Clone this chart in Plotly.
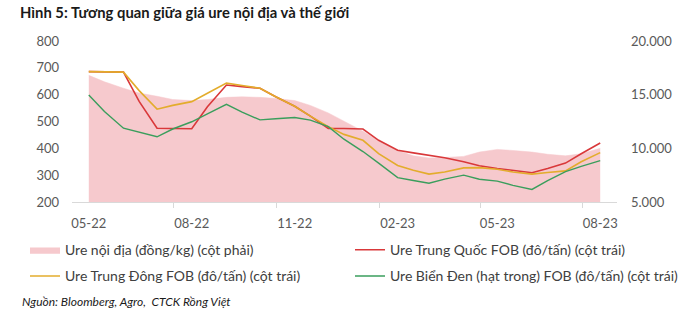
import plotly.graph_objects as go

# semi-monthly observation dates (1st and 15th), May 2022 -> Aug 2023
dates = []
for y, m in [(2022, mm) for mm in range(5, 13)] + [(2023, mm) for mm in range(1, 9)]:
    dates.append(f"{y}-{m:02d}-01")
    if not (y == 2023 and m == 8):
        dates.append(f"{y}-{m:02d}-15")

# Ure nội địa (đồng/kg) - right axis
ure_noi_dia = [16800, 16200, 15600, 15150, 14850, 14550, 14450, 14550, 14750, 14800,
               14750, 14650, 14450, 14000, 13300, 12550, 11600, 10700, 9800, 9300,
               9100, 9150, 9250, 9650, 9900, 9800, 9650, 9450, 9300, 9500, 10000]
# Ure Trung Quốc FOB (đô/tấn) - left axis
ure_trung_quoc = [686, 685, 684, 575, 475, 474, 473, 555, 636, 630,
                  624, 592, 557, 520, 474, 474, 472, 430, 393, 383,
                  375, 365, 350, 335, 325, 317, 309, 325, 345, 380, 420]
# Ure Trung Đông FOB (đô/tấn) - left axis
ure_trung_dong = [686, 685, 684, 615, 546, 560, 574, 605, 643, 634,
                  624, 592, 557, 520, 481, 452, 430, 380, 336, 318,
                  304, 312, 327, 328, 322, 312, 304, 310, 316, 350, 384]
# Ure Biển Đen (hạt trong) FOB (đô/tấn) - left axis
ure_bien_den = [599, 537, 475, 459, 443, 472, 499, 528, 564, 535,
                506, 510, 515, 505, 481, 434, 388, 345, 291, 280,
                270, 285, 300, 285, 278, 262, 247, 280, 313, 333, 354]

tick_dates = ["2022-05-01", "2022-08-01", "2022-11-01", "2023-02-01", "2023-05-01", "2023-08-01"]
tick_labels = ["05-22", "08-22", "11-22", "02-23", "05-23", "08-23"]
minor_ticks = ["2022-07-16", "2022-10-16", "2023-01-16", "2023-04-16", "2023-07-16"]

left_ticks = [200, 300, 400, 500, 600, 700, 800]
right_ticks = [5000, 10000, 15000, 20000]
right_labels = ["5.000", "10.000", "15.000", "20.000"]

FONT = "Lato"
fig = go.Figure()

fig.add_trace(go.Scatter(
    x=dates, y=ure_noi_dia, name="Ure nội địa (đồng/kg) (cột phải)",
    mode="lines", fill="tozeroy", fillcolor="#F6C9CD",
    line=dict(color="#F6C9CD", width=0.5), yaxis="y",
    legend="legend", legendgroup="a"))
fig.add_trace(go.Scatter(
    x=dates, y=ure_trung_quoc, name="Ure Trung Quốc FOB (đô/tấn) (cột trái)",
    mode="lines", line=dict(color="#D9383A", width=1.6), yaxis="y2",
    legend="legend2", legendgroup="b"))
fig.add_trace(go.Scatter(
    x=dates, y=ure_trung_dong, name="Ure Trung Đông FOB (đô/tấn) (cột trái)",
    mode="lines", line=dict(color="#E3AC2C", width=1.6), yaxis="y2",
    legend="legend", legendgroup="c"))
fig.add_trace(go.Scatter(
    x=dates, y=ure_bien_den, name="Ure Biển Đen (hạt trong) FOB (đô/tấn) (cột trái)",
    mode="lines", line=dict(color="#3A9E5C", width=1.4), yaxis="y2",
    legend="legend2", legendgroup="d"))

legend_common = dict(orientation="v", yanchor="top", y=-0.2, xanchor="left",
                     itemwidth=30, tracegroupgap=5,
                     font=dict(family=FONT, size=14, color="#404040"),
                     bgcolor="rgba(0,0,0,0)")

fig.update_layout(
    width=700, height=329,
    margin=dict(l=72, r=83, t=41, b=127),
    paper_bgcolor="white", plot_bgcolor="white",
    font=dict(family=FONT, size=13, color="#595959"),
    showlegend=True,
    title=dict(text="<b>Hình 5: Tương quan giữa giá ure nội địa và thế giới</b>",
               xref="container", yref="container", x=20/700, xanchor="left",
               y=1-13/329, yanchor="middle",
               font=dict(family=FONT, size=14.8, color="#1a1a1a")),
    xaxis=dict(type="date", range=["2022-04-16", "2023-08-16"],
               tickmode="array", tickvals=tick_dates, ticktext=tick_labels,
               ticks="", ticklabelstandoff=9,
               showline=True, linecolor="#D9D9D9", linewidth=1,
               showgrid=False, zeroline=False,
               minor=dict(tickmode="array", tickvals=minor_ticks, ticks="outside",
                          ticklen=5, tickcolor="#D9D9D9", tickwidth=1, showgrid=False)),
    yaxis=dict(side="right", range=[5000, 20000], tickvals=right_ticks, ticktext=right_labels,
               showgrid=False, zeroline=False, ticks="", ticklabelstandoff=13),
    yaxis2=dict(side="left", overlaying="y", range=[200, 800], tickvals=left_ticks,
                showgrid=False, zeroline=False, ticks="", ticklabelstandoff=12),
    legend=dict(x=(25-72)/545, **legend_common),
    legend2=dict(x=(350-72)/545, **legend_common),
    annotations=[dict(text="<i>Nguồn: Bloomberg, Agro,  CTCK Rồng Việt</i>",
                      xref="paper", yref="paper", x=(20-72)/545, y=(202-301)/161,
                      xanchor="left", yanchor="middle", showarrow=False,
                      font=dict(family=FONT, size=12, color="#1a1a1a"))],
)

fig.write_html("out.html")
